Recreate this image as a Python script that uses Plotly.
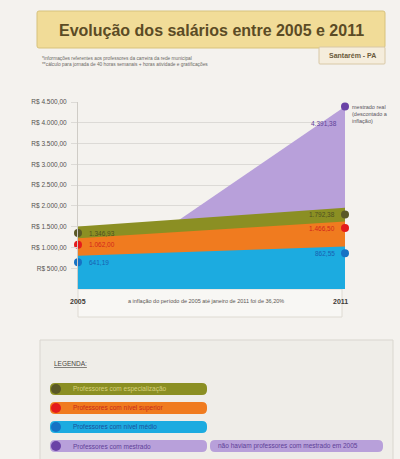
import plotly.graph_objects as go

# ---------------- data ----------------
anos = [2005, 2011]
especializacao = [1346.93, 1792.38]   # Professores com especialização
nivel_superior = [1062.00, 1466.50]   # Professores com nível superior
nivel_medio = [641.19, 862.55]        # Professores com nível médio
mestrado = [0, 4391.38]               # não haviam professores com mestrado em 2005
y_ticks = [500, 1000, 1500, 2000, 2500, 3000, 3500, 4000, 4500]

titulo = "Evolução dos salários entre 2005 e 2011"
local = "Santarém - PA"
nota1 = "*informações referentes aos professores da carreira da rede municipal"
nota2 = "**cálculo para jornada de 40 horas semanais + horas atividade e gratificações"
nota_inflacao = "a inflação do período de 2005 até janeiro de 2011 foi de 36,20%"
nota_mestrado = ["mestrado real", "(descontado a", "inflação)"]
legenda_itens = ["Professores com especialização", "Professores com nível superior",
                 "Professores com nível médio", "Professores com mestrado"]
legenda_extra = "não haviam professores com mestrado em 2005"

# ---------------- style ----------------
W, H = 400, 459
L, R, T, B = 78, 345, 102, 289
PW, PH = R - L, B - T
BG = "#f4f2ee"
FONT = "Liberation Sans, Arial, sans-serif"
C_GREEN, C_ORANGE, C_BLUE, C_PURPLE = "#8b8f23", "#f07b1f", "#1cabe0", "#b8a0da"
D_GREEN, D_RED, D_BLUE, D_PURPLE = "#5a5826", "#e41b1c", "#1672c4", "#6a43a6"
T_GREEN, T_RED, T_BLUE, T_PURPLE = "#4e5020", "#d3261d", "#1a5fb0", "#5e3f98"
PAD = 160  # band thickness above each dot (R$ units)


def brl(v):
    s = f"{v:,.2f}"
    return s.replace(",", "X").replace(".", ",").replace("X", ".")


def fx(px):
    return (px - L) / PW


def fy(py):
    return (B - py) / PH


def rrect(x0, y0, x1, y1, r):
    pts = []
    pts.append(f"M{fx(x0 + r)},{fy(y0)}")
    pts.append(f"L{fx(x1 - r)},{fy(y0)}")
    pts.append(f"Q{fx(x1)},{fy(y0)} {fx(x1)},{fy(y0 + r)}")
    pts.append(f"L{fx(x1)},{fy(y1 - r)}")
    pts.append(f"Q{fx(x1)},{fy(y1)} {fx(x1 - r)},{fy(y1)}")
    pts.append(f"L{fx(x0 + r)},{fy(y1)}")
    pts.append(f"Q{fx(x0)},{fy(y1)} {fx(x0)},{fy(y1 - r)}")
    pts.append(f"L{fx(x0)},{fy(y0 + r)}")
    pts.append(f"Q{fx(x0)},{fy(y0)} {fx(x0 + r)},{fy(y0)}")
    return " ".join(pts) + " Z"


fig = go.Figure()

# areas (overlapping, drawn back to front)
series = [
    (mestrado, C_PURPLE, 0),
    (especializacao, C_GREEN, PAD),
    (nivel_superior, C_ORANGE, PAD),
    (nivel_medio, C_BLUE, PAD),
]
for vals, col, pad in series:
    fig.add_trace(go.Scatter(
        x=anos, y=[v + pad if v else v for v in vals], mode="lines",
        line=dict(width=0, color=col), fill="tozeroy", fillcolor=col,
        hoverinfo="skip", showlegend=False))

# dots
dots = [
    (anos, especializacao, D_GREEN),
    (anos, nivel_superior, D_RED),
    (anos, nivel_medio, D_BLUE),
    (anos[1:], mestrado[1:], D_PURPLE),
]
for xs, ys, col in dots:
    fig.add_trace(go.Scatter(x=xs, y=ys, mode="markers",
                             marker=dict(size=8, color=col), cliponaxis=False,
                             hoverinfo="skip", showlegend=False))

ann = []
# value labels
for vals, col in [(especializacao, T_GREEN), (nivel_superior, T_RED), (nivel_medio, T_BLUE)]:
    ann.append(dict(x=anos[0], y=vals[0], xref="x", yref="y", text=brl(vals[0]),
                    xanchor="left", yanchor="middle", xshift=9, showarrow=False,
                    font=dict(size=6.5, color=col, family=FONT)))
    ann.append(dict(x=anos[1], y=vals[1], xref="x", yref="y", text=brl(vals[1]),
                    xanchor="right", yanchor="middle", xshift=-8, showarrow=False,
                    font=dict(size=6.5, color=col, family=FONT)))
ann.append(dict(x=anos[1], y=mestrado[1], xref="x", yref="y", text=brl(mestrado[1]),
                xanchor="right", yanchor="middle", xshift=-6, yshift=-17, showarrow=False,
                font=dict(size=6.5, color=T_PURPLE, family=FONT)))
ann.append(dict(x=anos[1], y=mestrado[1], xref="x", yref="y",
                text="<br>".join(nota_mestrado), align="left",
                xanchor="left", yanchor="top", xshift=5, yshift=5, showarrow=False,
                font=dict(size=5.5, color="#5a5560", family=FONT)))

# title and header
ann.append(dict(x=fx(211), y=fy(30), xref="paper", yref="paper", text=f"<b>{titulo}</b>",
                showarrow=False, xanchor="center", yanchor="middle",
                font=dict(size=16, color="#5b4b25", family=FONT)))
ann.append(dict(x=fx(352), y=fy(56), xref="paper", yref="paper", text=f"<b>{local}</b>",
                showarrow=False, xanchor="center", yanchor="middle",
                font=dict(size=7, color="#6a5a3a", family=FONT)))
ann.append(dict(x=fx(40), y=fy(61), xref="paper", yref="paper",
                text=nota1 + "<br>" + nota2, align="left",
                showarrow=False, xanchor="left", yanchor="middle",
                font=dict(size=4.8, color="#6d6a66", family=FONT)))

# x labels
ann.append(dict(x=anos[0], y=fy(301), xref="x", yref="paper", text="<b>2005</b>",
                showarrow=False, xanchor="center", yanchor="middle",
                font=dict(size=7, color="#3e3a36", family=FONT)))
ann.append(dict(x=anos[1], y=fy(301), xref="x", yref="paper", text="<b>2011</b>",
                showarrow=False, xanchor="center", yanchor="middle", xshift=-5,
                font=dict(size=7, color="#3e3a36", family=FONT)))
ann.append(dict(x=fx(206), y=fy(301), xref="paper", yref="paper", text=nota_inflacao,
                showarrow=False, xanchor="center", yanchor="middle",
                font=dict(size=5.5, color="#5a5652", family=FONT)))

# legend
ann.append(dict(x=fx(52), y=fy(363), xref="paper", yref="paper", text="<u>LEGENDA:</u>",
                showarrow=False, xanchor="left", yanchor="middle",
                font=dict(size=6.5, color="#4a4642", family=FONT)))

shapes = []
# header box
shapes.append(dict(type="path", xref="paper", yref="paper",
                   path=rrect(37, 11, 385, 48, 2), fillcolor="#f1dc98",
                   line=dict(color="#d7c27c", width=1), layer="below"))
shapes.append(dict(type="path", xref="paper", yref="paper",
                   path=rrect(319, 47, 385, 64, 1), fillcolor="#f5eddc",
                   line=dict(color="#d8c8a6", width=1), layer="below"))
# x-axis panel
shapes.append(dict(type="rect", xref="paper", yref="paper",
                   x0=fx(78), x1=fx(342), y0=fy(317), y1=fy(289),
                   fillcolor="#f8f7f4", line=dict(color="#dedad2", width=1), layer="below"))
# legend box
shapes.append(dict(type="rect", xref="paper", yref="paper",
                   x0=fx(40), x1=fx(393), y0=fy(470), y1=fy(340),
                   fillcolor="#efede8", line=dict(color="#d9d6cf", width=1), layer="below"))

pill_cols = [C_GREEN, C_ORANGE, C_BLUE, C_PURPLE]
dot_cols = [D_GREEN, D_RED, D_BLUE, D_PURPLE]
txt_cols = ["#d6d07a", "#c8281c", "#1a4f9c", "#5e3f98"]
pill_y = [389, 408, 427, 446]
for i, name in enumerate(legenda_itens):
    yc = pill_y[i]
    shapes.append(dict(type="path", xref="paper", yref="paper",
                       path=rrect(50, yc - 6, 207, yc + 6, 5), fillcolor=pill_cols[i],
                       line=dict(width=0)))
    shapes.append(dict(type="circle", xref="paper", yref="paper",
                       x0=fx(51), x1=fx(61), y0=fy(yc + 5), y1=fy(yc - 5),
                       fillcolor=dot_cols[i], line=dict(width=0)))
    ann.append(dict(x=fx(71), y=fy(yc), xref="paper", yref="paper", text=name,
                    showarrow=False, xanchor="left", yanchor="middle",
                    font=dict(size=6.5, color=txt_cols[i], family=FONT)))
shapes.append(dict(type="path", xref="paper", yref="paper",
                   path=rrect(210, 440, 383, 452, 5), fillcolor=C_PURPLE,
                   line=dict(width=0)))
ann.append(dict(x=fx(216), y=fy(446), xref="paper", yref="paper", text=legenda_extra,
                showarrow=False, xanchor="left", yanchor="middle",
                font=dict(size=6.5, color=txt_cols[3], family=FONT)))

fig.update_layout(
    width=W, height=H,
    margin=dict(l=L, r=W - R, t=T, b=H - B, pad=0),
    paper_bgcolor=BG, plot_bgcolor=BG,
    showlegend=False,
    annotations=ann, shapes=shapes,
    xaxis=dict(range=[anos[0], anos[1]], showgrid=False, zeroline=False,
               showticklabels=False, showline=False, fixedrange=True),
    yaxis=dict(range=[0, 4500], tickvals=y_ticks,
               ticktext=["R$ " + brl(v) for v in y_ticks],
               showgrid=True, gridcolor="#dcdad6", gridwidth=1,
               zeroline=False, showline=True, linecolor="#cfccc6", linewidth=1,
               ticks="outside", ticklen=6, tickcolor="#dcdad6",
               tickfont=dict(size=6.5, color="#55524e", family=FONT),
               ticklabelstandoff=3, fixedrange=True),
)

fig.write_html("out.html")
